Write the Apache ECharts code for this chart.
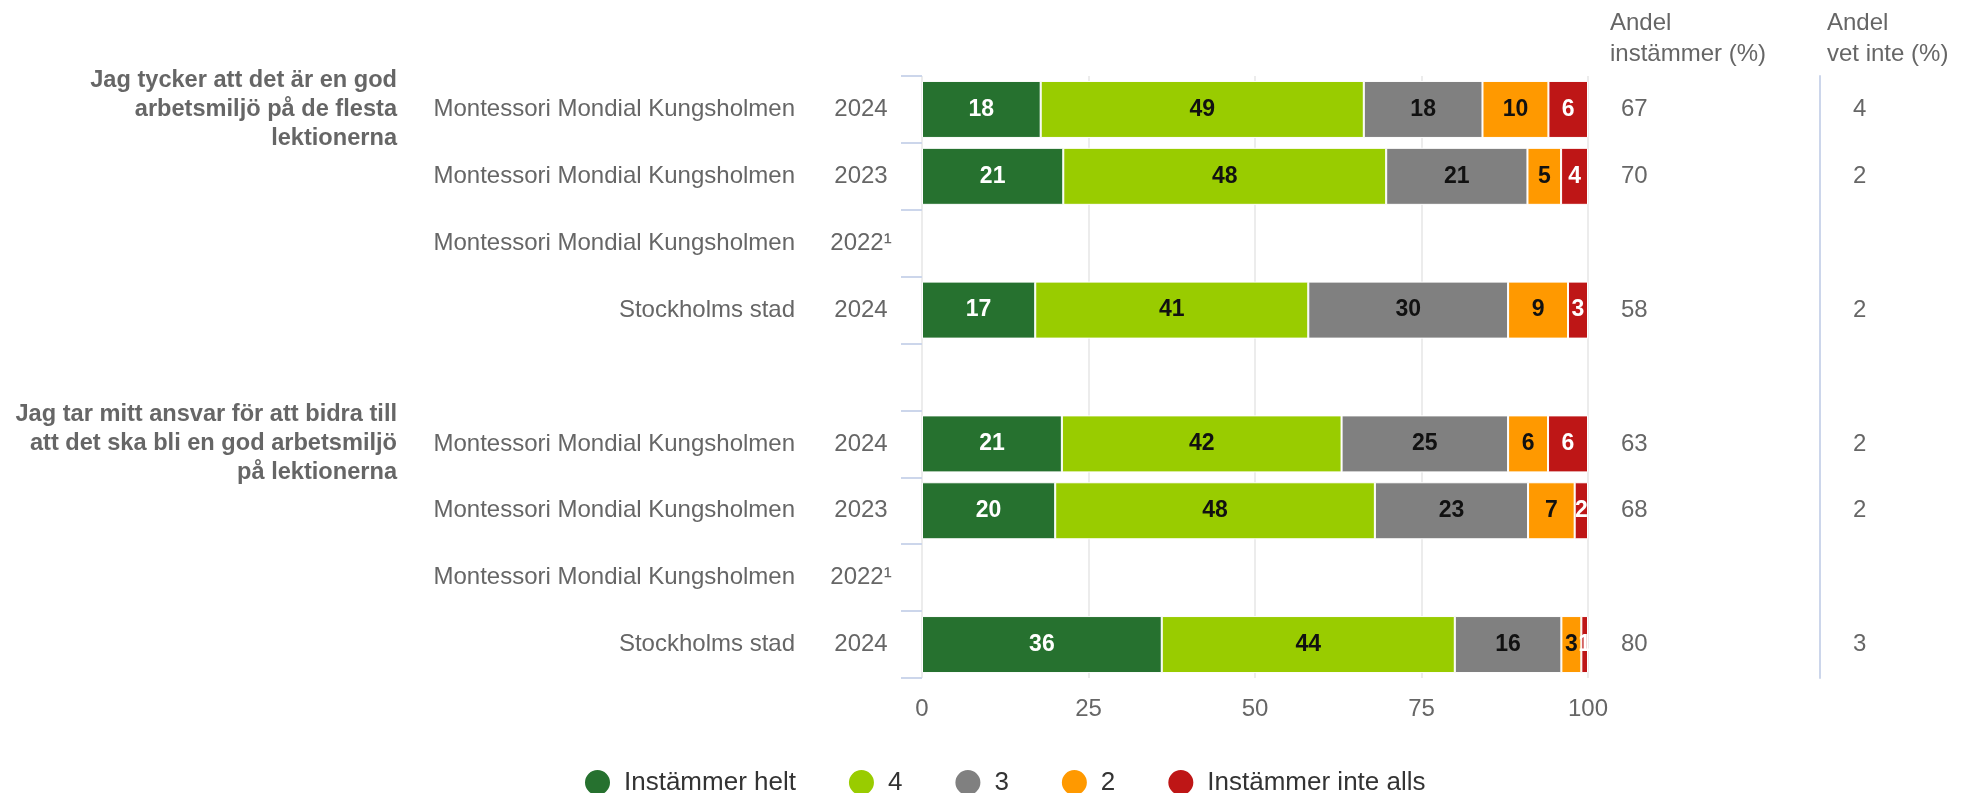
<!DOCTYPE html>
<html>
<head>
<meta charset="utf-8">
<script src="https://cdn.jsdelivr.net/npm/echarts@6/dist/echarts.min.js"></script>
<style>
html,body{margin:0;padding:0;background:#fff;}
#chart{width:1972px;height:793px;}
</style>
</head>
<body>
<div id="chart"></div>
<script>
// Row labels (top to bottom); empty row separates the two questions
const units = ['Montessori Mondial Kungsholmen','Montessori Mondial Kungsholmen','Montessori Mondial Kungsholmen','Stockholms stad','',
               'Montessori Mondial Kungsholmen','Montessori Mondial Kungsholmen','Montessori Mondial Kungsholmen','Stockholms stad'];
const years = ['2024','2023','2022¹','2024','','2024','2023','2022¹','2024'];
const questions = ['Jag tycker att det är en god\narbetsmiljö på de flesta\nlektionerna','','','','',
                   'Jag tar mitt ansvar för att bidra till\natt det ska bli en god arbetsmiljö\npå lektionerna','','',''];

// Answer distribution (%)
const instammerHelt = [18, 21, null, 17, null, 21, 20, null, 36];
const svar4         = [49, 48, null, 41, null, 42, 48, null, 44];
const svar3         = [18, 21, null, 30, null, 25, 23, null, 16];
const svar2         = [10,  5, null,  9, null,  6,  7, null,  3];
const instammerInte = [ 6,  4, null,  3, null,  6,  2, null,  1];

// Side columns
const andelInstammer = ['67','70','','58','','63','68','','80'];
const andelVetInte   = ['4','2','','2','','2','2','','3'];

const xTicks = [0, 25, 50, 75, 100];

const seriesDefs = [
  {name:'Instämmer helt', data:instammerHelt, color:'#26712f', label:'#ffffff'},
  {name:'4', data:svar4, color:'#99cc00', label:'#111111'},
  {name:'3', data:svar3, color:'#808080', label:'#111111'},
  {name:'2', data:svar2, color:'#ff9900', label:'#111111'},
  {name:'Instämmer inte alls', data:instammerInte, color:'#be1616', label:'#ffffff'}
];

// percent stacking (as in the original chart)
const totals = units.map((_, i) => seriesDefs.reduce((s, d) => s + (d.data[i] || 0), 0));

const FONT = '"Liberation Sans", Arial, sans-serif';
const chart = echarts.init(document.getElementById('chart'));

const series = seriesDefs.map(d => ({
  name: d.name,
  type: 'bar',
  stack: 'total',
  barWidth: 57,
  yAxisIndex: 0,
  itemStyle: {color: d.color, borderColor: '#ffffff', borderWidth: 1},
  label: {
    show: true, position: 'inside', color: d.label,
    fontSize: 23, fontWeight: 'bold', fontFamily: FONT,
    formatter: p => String(d.data[p.dataIndex])
  },
  emphasis: {disabled: true},
  data: d.data.map((v, i) => v == null ? '-' : v / totals[i] * 100)
}));

const catBase = {
  type: 'category', inverse: true, gridIndex: 0, position: 'left',
  axisLine: {show: false}, axisTick: {show: false}, splitLine: {show: false}
};

chart.setOption({
  animation: false,
  textStyle: {fontFamily: FONT},
  title: [
    {text: 'Andel\ninstämmer (%)', left: 1605, top: 3,
     textStyle: {fontSize: 24, fontWeight: 'normal', color: '#666666', lineHeight: 31, fontFamily: FONT}},
    {text: 'Andel\nvet inte (%)', left: 1822, top: 3,
     textStyle: {fontSize: 24, fontWeight: 'normal', color: '#666666', lineHeight: 31, fontFamily: FONT}}
  ],
  legend: {
    left: 578, top: 763,
    icon: 'circle', itemWidth: 27, itemHeight: 27, itemGap: 51,
    textStyle: {fontSize: 26, color: '#333333', fontFamily: FONT, padding: [0, 0, 0, 8]},
    data: seriesDefs.map(d => d.name)
  },
  grid: {left: 922, right: 384, top: 76, bottom: 115, containLabel: false, outerBoundsMode: 'none'},
  xAxis: {
    type: 'value', min: xTicks[0], max: xTicks[xTicks.length - 1], interval: 25,
    axisLine: {show: false}, axisTick: {show: false},
    splitLine: {show: true, lineStyle: {color: '#e6e6e6', width: 1.5}},
    axisLabel: {fontSize: 24, color: '#666666', margin: 19, fontFamily: FONT}
  },
  yAxis: [
    Object.assign({}, catBase, {
      data: units,
      axisTick: {show: true, length: 21, lineStyle: {color: '#ccd6eb', width: 2}},
      axisLabel: {interval: 0, fontSize: 24, color: '#666666', margin: 127, fontFamily: FONT}
    }),
    Object.assign({}, catBase, {
      data: years,
      axisLabel: {interval: 0, fontSize: 24, color: '#666666', margin: 61, align: 'center', fontFamily: FONT}
    }),
    Object.assign({}, catBase, {
      data: questions,
      axisLabel: {interval: 0, fontSize: 23.6, fontWeight: 'bold', color: '#666666', margin: 525,
                  lineHeight: 29, align: 'right', padding: [6, 0, 0, 0], fontFamily: FONT}
    }),
    Object.assign({}, catBase, {
      position: 'right',
      data: andelInstammer,
      axisLabel: {interval: 0, fontSize: 24, color: '#666666', margin: 33, align: 'left', fontFamily: FONT}
    }),
    Object.assign({}, catBase, {
      position: 'right', offset: 232,
      data: andelVetInte,
      axisLine: {show: true, lineStyle: {color: '#ccd6eb', width: 2}},
      axisLabel: {interval: 0, fontSize: 24, color: '#666666', margin: 33, align: 'left', fontFamily: FONT}
    })
  ],
  series: series
});
</script>
</body>
</html>
